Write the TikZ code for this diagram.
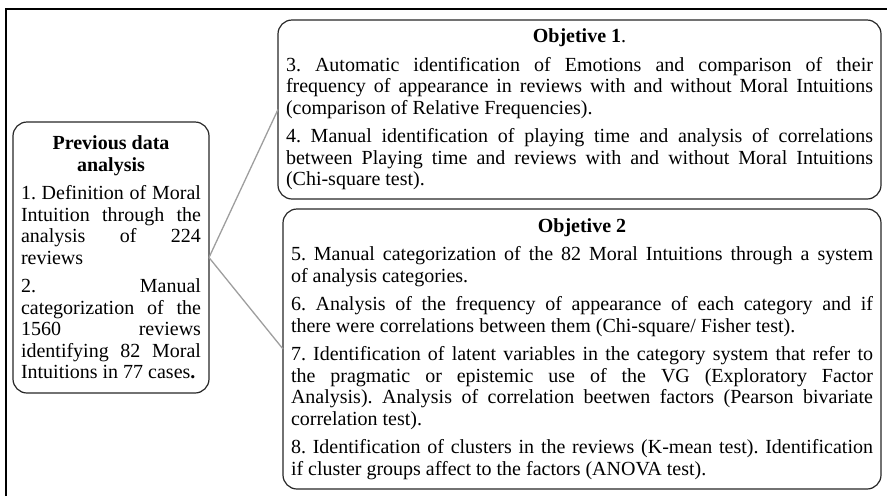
\documentclass[tikz,border=0pt]{standalone}
\usepackage{fontspec}
\setmainfont{Liberation Serif}
\tikzset{
  txtbox/.style={draw=black!85, line width=1.2pt, rounded corners=14pt, inner xsep=8pt, inner ysep=4pt,
    outer sep=0pt, align=justify, font=\fontsize{20}{21.5}\selectfont,
    execute at begin node={\frenchspacing\setlength{\parskip}{7pt}\setlength{\parindent}{0pt}}},
  link/.style={draw=black!38, line width=1.3pt}
}
\begin{document}
\begin{tikzpicture}[x=1pt,y=-1pt]
\useasboundingbox (0,0) rectangle (887,496);
\draw[line width=2pt] (6,496) -- (6,9) -- (887,9);
\node[txtbox, text width=180pt, minimum width=196pt, minimum height=271pt] (prev) at (111,257.5) {%
{\centering\bfseries Previous data\\ analysis\par}
1. Definition of Moral\linebreak Intuition through the\linebreak analysis of 224\linebreak reviews\par
2. Manual\linebreak categorization of the\linebreak 1560 reviews\linebreak identifying 82 Moral\linebreak Intuitions in 77 cases\textbf{.}\par};
\node[txtbox, text width=587pt, minimum width=603pt, minimum height=179pt] (obj1) at (579.5,109.5) {%
{\centering\textbf{Objetive 1}.\par}
3. Automatic identification of Emotions and comparison of their\linebreak frequency of appearance in reviews with and without Moral Intuitions\linebreak (comparison of Relative Frequencies).\par
4. Manual identification of playing time and analysis of correlations\linebreak between Playing time and reviews with and without Moral Intuitions\linebreak (Chi-square test).\par};
\node[txtbox, text width=582pt, minimum width=598pt, minimum height=280pt] (obj2) at (582,349) {%
{\centering\textbf{Objetive 2}\par}
5. Manual categorization of the 82 Moral Intuitions through a system\linebreak of analysis categories.\par
6. Analysis of the frequency of appearance of each category and if\linebreak there were correlations between them (Chi-square/ Fisher test).\par
7. Identification of latent variables in the category system that refer to\linebreak the pragmatic or epistemic use of the VG (Exploratory Factor\linebreak Analysis). Analysis of correlation beetwen factors (Pearson bivariate\linebreak correlation test).\par
8. Identification of clusters in the reviews (K-mean test). Identification\linebreak if cluster groups affect to the factors (ANOVA test).\par};
\draw[link] (prev.east) -- (obj1.west);
\draw[link] (prev.east) -- (obj2.west);
\end{tikzpicture}
\end{document}
